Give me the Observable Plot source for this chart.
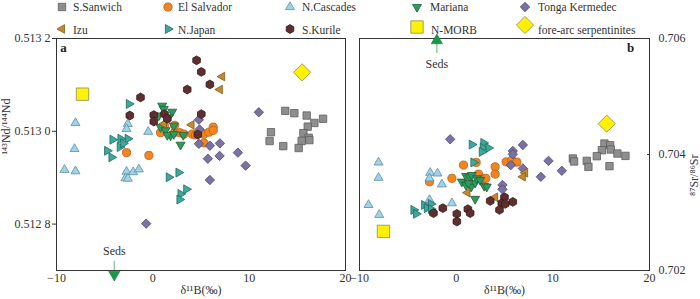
<!DOCTYPE html>
<html><head><meta charset="utf-8">
<script src="https://cdn.jsdelivr.net/npm/d3@7"></script>
<script src="https://cdn.jsdelivr.net/npm/@observablehq/plot@0.6"></script>
<style>
body{margin:0;background:#fff;}
#wrap{position:relative;width:700px;height:299px;overflow:hidden;font-family:"Liberation Serif",serif;background:#fff;}
#wrap svg{position:absolute;top:0;overflow:visible;}
#wrap text{font-family:"Liberation Serif",serif;}
</style></head><body><div id="wrap"></div>
<script>
// ---- data: [δ11B, 143Nd/144Nd] (panel a) and [δ11B, 87Sr/86Sr] (panel b)
const seriesNames = ["S.Sanwich","El Salvador","N.Cascades","Mariana","Tonga Kermedec","Izu","N.Japan","S.Kurile","N-MORB","fore-arc serpentinites"];
const xTicks = [-10, 0, 10, 20];
const yTicksA = [0.5128, 0.5130, 0.5132];
const yTicksB = [0.702, 0.704, 0.706];
const sedsA = [-4];
const sedsB = [-2];

const sSanwichA = [[13.75,0.513044],[14.69,0.513039],[15.97,0.513034],[17.67,0.513027],[16.77,0.513018],[16.08,0.513010],[12.26,0.512998],[15.63,0.512996],[16.18,0.512986],[16.25,0.512981],[12.12,0.512979],[15.45,0.512979],[13.54,0.512968],[15.14,0.512964]];
const elSalvadorA = [[-0.41,0.512948],[0.8,0.512997],[1.21,0.513012],[2.28,0.512998],[2.8,0.512997],[3.22,0.512994],[4.09,0.512994],[4.43,0.512992],[5.3,0.512994],[5.82,0.512998],[6.27,0.513009],[6.27,0.513002],[5.3,0.512975],[-2.73,0.512954],[2.26,0.513013]];
const nCascadesA = [[-8.03,0.513018],[-8.13,0.512962],[-9.17,0.512917],[-8.03,0.512914],[-2.6,0.513016],[-2.73,0.513005],[-0.48,0.512999],[-2.73,0.512913],[-2.04,0.512912],[-1.45,0.512918],[-2.84,0.512899],[-2.6,0.512898]];
const marianaA = [[0.97,0.513055],[1.14,0.513048],[2.01,0.513042],[0.62,0.513034],[1.66,0.513030],[2.18,0.513012],[0.8,0.513009],[1.32,0.513002],[1.84,0.512991],[1.5,0.512992],[3.16,0.512992],[2.88,0.512971],[2.18,0.512994]];
const tongaA = [[11.0,0.513041],[4.78,0.513025],[4.85,0.513004],[4.78,0.512973],[5.92,0.512969],[6.96,0.512974],[8.83,0.512954],[5.71,0.512941],[6.93,0.512947],[9.63,0.512926],[5.92,0.512895],[-0.69,0.512801]];
const izuA = [[7.2,0.513118],[6.96,0.513090],[4.02,0.513014],[1.15,0.513016]];
const nJapanA = [[-2.48,0.513059],[-4.18,0.512982],[-3.35,0.512984],[-2.6,0.512984],[-3.43,0.512966],[-3.07,0.512974],[-4.74,0.512958],[-4.29,0.512944],[1.66,0.512901],[2.67,0.512911],[3.47,0.512875],[2.88,0.512865],[2.77,0.512853]];
const sKurileA = [[4.54,0.513153],[5.03,0.513128],[5.92,0.513101],[3.57,0.513090],[-1.28,0.513073],[-2.39,0.513034],[0.1,0.513035],[0.1,0.513021],[1.21,0.513037],[1.5,0.513027],[5.03,0.513037],[4.67,0.512993]];
const nMorbA = [[-7.3,0.513080]];
const foreArcA = [[15.5,0.513127]];

const sSanwichB = [[15.34,0.704189],[15.93,0.704159],[15.07,0.704074],[15.99,0.704086],[14.55,0.703971],[16.68,0.704017],[17.51,0.703976],[13.51,0.703890],[13.68,0.703787],[12.07,0.703931],[12.2,0.703880],[15.86,0.703799]];
const elSalvadorB = [[0.76,0.703817],[2.07,0.703863],[2.31,0.703662],[2.76,0.703582],[3.07,0.703589],[4.03,0.703787],[4.03,0.703662],[5.17,0.703873],[5.76,0.703902],[6.28,0.703868],[-0.44,0.703589],[-2.76,0.703530]];
const nCascadesB = [[-8.03,0.703863],[-8.03,0.703599],[-9.07,0.703131],[-7.96,0.702960],[-2.69,0.703685],[-1.93,0.703674],[-2.76,0.703589],[-1.48,0.703486],[-0.44,0.703160],[-2.76,0.703217]];
const marianaB = [[0.59,0.703531],[1.03,0.703628],[1.38,0.703616],[1.62,0.703645],[1.03,0.703474],[1.55,0.703445],[1.96,0.703513],[2.14,0.703589],[2.48,0.703560],[2.9,0.703457],[3.17,0.703445],[1.96,0.703234],[1.27,0.703503]];
const tongaB = [[-0.62,0.704262],[5.86,0.704062],[5.86,0.704005],[6.9,0.704165],[5.66,0.703817],[6.9,0.703760],[9.55,0.703890],[10.93,0.703719],[8.76,0.703616],[4.79,0.703474],[4.79,0.703400]];
const izuB = [[1.17,0.703342],[4.03,0.703263],[7.14,0.703685],[6.9,0.703616]];
const nJapanB = [[1.62,0.704171],[2.82,0.704199],[2.76,0.704113],[3.34,0.704113],[2.66,0.704045],[1.79,0.703863],[-4.41,0.703045],[-4.14,0.702977],[-3.31,0.703131],[-3.03,0.703075],[-2.62,0.703148],[-2.59,0.703057]];
const sKurileB = [[-2.35,0.702989],[-1.38,0.703075],[0.07,0.702977],[0.07,0.702845],[1.21,0.703057],[1.45,0.702989],[3.52,0.703200],[5.0,0.703263],[4.72,0.703160],[5.07,0.703148],[5.86,0.703183],[4.48,0.703045]];
const nMorbB = [[-7.52,0.702674]];
const foreArcB = [[15.58,0.704531]];

// ---- styles
const fills   = ["#8e8e8e","#f5841f","#9ed3ea","#2f9a5c","#7d71a3","#c68a2e","#3aaa9c","#5e2f2f","#fff100","#fff100"];
const strokes = ["#606060","#b0601c","#5d8ea6","#1c6039","#4f4672","#7f5a1e","#21675f","#3a1b1b","#8c8a5c","#8c8a5c"];
const radii   = [3.7, 4.1, 5.2, 5.2, 4.7, 5, 5.2, 4.4, 6.2, 8.6];
const FONT = "Liberation Serif, serif";

const poly = pts => ({draw(ctx, size){const R=Math.sqrt(size/Math.PI);pts.forEach(([a,b],i)=>i?ctx.lineTo(a*R,b*R):ctx.moveTo(a*R,b*R));ctx.closePath();}});
const s3 = Math.sqrt(3)/2;
const symSquare = poly([[-1,-1],[1,-1],[1,1],[-1,1]]);
const symDiamond = poly([[0,-1],[1,0],[0,1],[-1,0]]);
const symUp = poly([[0,-1],[s3,0.5],[-s3,0.5]]);
const symDown = poly([[0,1],[s3,-0.5],[-s3,-0.5]]);
const symLeft = poly([[-1,0],[0.5,-s3],[0.5,s3]]);
const symRight = poly([[1,0],[-0.5,-s3],[-0.5,s3]]);
const symHex = poly(d3.range(6).map(i=>[Math.cos(Math.PI/3*i-Math.PI/2),Math.sin(Math.PI/3*i-Math.PI/2)]));
const symCircle = {draw(ctx,size){const R=Math.sqrt(size/Math.PI);ctx.moveTo(R,0);ctx.arc(0,0,R,0,2*Math.PI);ctx.closePath();}};
const symbols = [symSquare,symCircle,symUp,symDown,symDiamond,symLeft,symRight,symHex,symSquare,symDiamond];

const panelA = [sSanwichA,elSalvadorA,nCascadesA,marianaA,tongaA,izuA,nJapanA,sKurileA,nMorbA,foreArcA];
const panelB = [sSanwichB,elSalvadorB,nCascadesB,marianaB,tongaB,izuB,nJapanB,sKurileB,nMorbB,foreArcB];

const seriesMarks = sets => sets.map((data,i)=>Plot.dot(data,{x:d=>d[0],y:d=>d[1],symbol:symbols[i],r:radii[i],fill:fills[i],stroke:strokes[i],strokeWidth:0.8}));

const style = {fontFamily:FONT,fontSize:"12px",color:"#333",background:"transparent",overflow:"visible"};
const fmtA = v => {const s=d3.format(".4f")(v);return s.slice(0,-1)+" "+s.slice(-1);};
const txt = {fontFamily:FONT,fontSize:12,fill:"#333"};

const plotA = Plot.plot({
  width:350,height:299,marginLeft:56,marginRight:5,marginTop:38,marginBottom:29,
  style,
  x:{domain:[-10,20]},
  y:{domain:[0.5127,0.5132]},
  marks:[
    Plot.frame({stroke:"#333",strokeWidth:1}),
    Plot.axisX(xTicks,{tickSize:0,tickPadding:3,label:null,fontSize:12,fontFamily:FONT}),
    Plot.axisY(yTicksA,{tickSize:4,tickPadding:2,tickFormat:fmtA,label:null,fontSize:12,fontFamily:FONT}),
    ...seriesMarks(panelA),
    Plot.ruleX(sedsA,{x:d=>d,insetTop:223,stroke:"#8fd0a8",strokeWidth:1.5}),
    Plot.dot(sedsA,{x:d=>d,frameAnchor:"bottom",dy:4,symbol:symDown,r:6.5,fill:"#18984a",stroke:"#137a3c",strokeWidth:0.6}),
    Plot.text(sedsA,{x:d=>d,frameAnchor:"bottom",dy:-16,text:()=>"Seds",...txt}),
    Plot.text(["δ¹¹B(‰)"],{frameAnchor:"bottom",dy:23,...txt}),
    Plot.text(["¹⁴³Nd/¹⁴⁴Nd"],{frameAnchor:"left",dx:-50,rotate:-90,...txt}),
    Plot.text(["a"],{frameAnchor:"top-left",dx:7,dy:9,textAnchor:"middle",lineAnchor:"middle",fontWeight:"bold",fontSize:13,fontFamily:FONT,fill:"#222"})
  ]
});
plotA.style.left = "0px";

const plotB = Plot.plot({
  width:350,height:299,marginLeft:9,marginRight:51,marginTop:38,marginBottom:29,
  style,
  x:{domain:[-10,20]},
  y:{domain:[0.702,0.706]},
  marks:[
    Plot.frame({stroke:"#333",strokeWidth:1}),
    Plot.axisX(xTicks,{tickSize:0,tickPadding:3,label:null,fontSize:12,fontFamily:FONT}),
    Plot.axisY(yTicksB,{anchor:"right",tickSize:-3,tickPadding:12,tickFormat:d3.format(".3f"),label:null,fontSize:12,fontFamily:FONT}),
    ...seriesMarks(panelB),
    Plot.ruleX(sedsB,{x:d=>d,insetTop:4,insetBottom:217,stroke:"#8fd0a8",strokeWidth:1.5}),
    Plot.dot(sedsB,{x:d=>d,frameAnchor:"top",dy:2,symbol:symUp,r:6.5,fill:"#18984a",stroke:"#137a3c",strokeWidth:0.6}),
    Plot.text(sedsB,{x:d=>d,frameAnchor:"top",dy:21,text:()=>"Seds",...txt}),
    Plot.text(["δ¹¹B(‰)"],{frameAnchor:"bottom",dy:23,...txt}),
    Plot.text(["⁸⁷Sr/⁸⁶Sr"],{frameAnchor:"right",dx:45,rotate:-90,...txt}),
    Plot.text(["b"],{frameAnchor:"top-right",dx:-19,dy:9,textAnchor:"middle",lineAnchor:"middle",fontWeight:"bold",fontSize:13,fontFamily:FONT,fill:"#222"})
  ]
});
plotB.style.left = "350px";

const wrap = document.getElementById("wrap");
wrap.appendChild(plotA);
wrap.appendChild(plotB);

// ---- legend (layout positions)
const legendPos = [[62,7,73],[168,7,178],[290,7,302],[417,7,430],[525,7,538],[62,29,73],[168,29,178],[290,29,302],[417,27,431],[525,25,538]];
const leg = d3.select(wrap).append("svg").attr("width",700).attr("height",40).style("left","0px").style("top","0px");
seriesNames.forEach((name,i)=>{
  const [mx,my,tx] = legendPos[i];
  const p = d3.path(); const r = radii[i]; symbols[i].draw(p, r*r*Math.PI);
  leg.append("path").attr("d",p.toString()).attr("transform",`translate(${mx},${my})`).attr("fill",fills[i]).attr("stroke",strokes[i]).attr("stroke-width",0.8);
  leg.append("text").attr("x",tx).attr("y",i>=5?30:7).attr("dy","0.35em").attr("font-family",FONT).attr("font-size",11.5).attr("fill","#333").text(name);
});
</script></body></html>
